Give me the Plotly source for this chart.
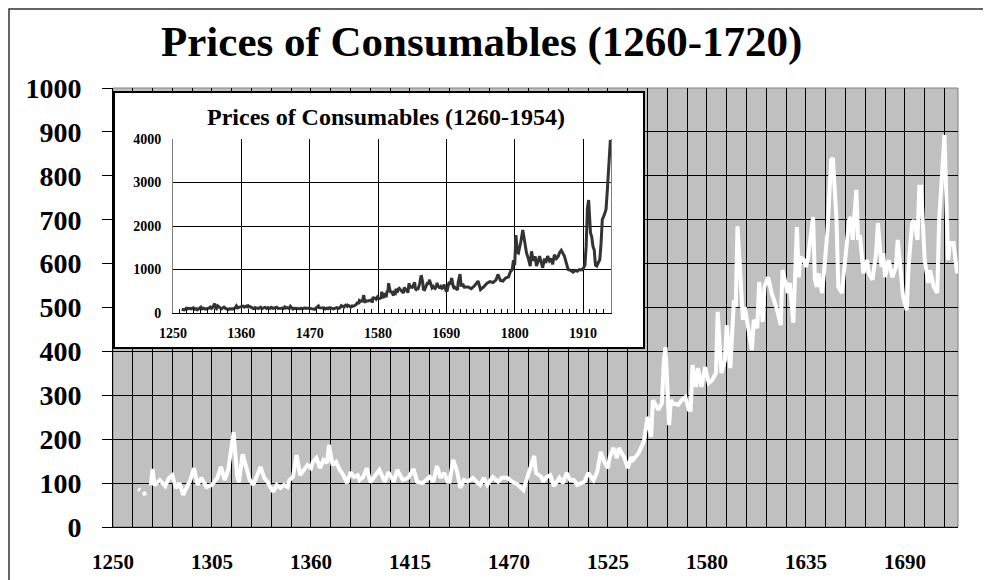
import plotly.graph_objects as go

# ---------------- data ----------------
years = [1264, 1265, 1266, 1267, 1268, 1269, 1271, 1272, 1273, 1276, 1279, 1281, 1283, 1285,
         1287, 1289, 1291, 1293, 1295, 1297, 1299, 1302, 1305, 1308, 1310, 1312, 1314, 1317,
         1319, 1320, 1322, 1324, 1326, 1328, 1330, 1332, 1334, 1336, 1339, 1341, 1343, 1345,
         1347, 1348, 1350, 1352, 1354, 1356, 1358, 1360, 1361, 1363, 1365, 1367, 1369, 1370,
         1372, 1374, 1376, 1378, 1380, 1382, 1384, 1386, 1387, 1389, 1391, 1393, 1395, 1398,
         1401, 1403, 1406, 1408, 1411, 1414, 1417, 1419, 1422, 1425, 1426, 1428, 1430, 1432,
         1434, 1436, 1437, 1439, 1441, 1443, 1445, 1447, 1450, 1452, 1454, 1456, 1458, 1461,
         1464, 1466, 1469, 1472, 1475, 1478, 1480, 1482, 1484, 1485, 1488, 1489, 1491, 1493,
         1495, 1498, 1500, 1502, 1504, 1506, 1508, 1510, 1512, 1514, 1517, 1519, 1521, 1523,
         1525, 1526, 1528, 1530, 1531, 1534, 1536, 1538, 1539, 1542, 1545, 1547, 1549, 1550,
         1553, 1555, 1556, 1557, 1559, 1560, 1561, 1564, 1566, 1568, 1570, 1571, 1572, 1574,
         1575, 1577, 1579, 1581, 1583, 1585, 1586, 1588, 1590, 1591, 1593, 1595, 1596, 1597,
         1599, 1600, 1601, 1603, 1605, 1606, 1608, 1609, 1611, 1612, 1614, 1616, 1619, 1621,
         1622, 1625, 1626, 1628, 1630, 1631, 1632, 1634, 1635, 1636, 1639, 1640, 1641, 1642,
         1644, 1645, 1647, 1649, 1650, 1652, 1653, 1655, 1657, 1659, 1660, 1661, 1663, 1664,
         1665, 1667, 1669, 1670, 1672, 1674, 1675, 1677, 1678, 1679, 1681, 1683, 1685, 1686,
         1688, 1689, 1691, 1692, 1694, 1695, 1697, 1698, 1699, 1701, 1703, 1704, 1706, 1708,
         1709, 1711, 1712, 1714, 1715, 1717, 1719, 1720]
prices = [87, 84, None, 80, 72, None, 95, 132, 95, 107, 93, 111, 118, 89,
          100, 73, 91, 107, 134, 96, 112, 91, 96, 112, 137, 107, 130, 216,
          114, 102, 166, 137, 107, 96, 118, 137, 112, 102, 80, 96, 89, 96,
          91, 107, 114, 164, 118, 130, 141, 134, 148, 157, 134, 153, 146, 187,
          141, 148, 130, 118, 100, 125, 114, 118, 107, 114, 134, 102, 114, 130,
          103, 125, 103, 130, 107, 112, 132, 103, 100, 112, 114, 103, 139, 112,
          123, 103, 103, 153, 130, 89, 107, 103, 112, 103, 96, 112, 96, 114,
          103, 112, 112, 103, 96, 84, 112, 137, 162, 123, 114, 103, 114, 118,
          93, 112, 100, 123, 107, 107, 96, 100, 103, 123, 107, 125, 171, 148,
          134, 159, 180, 157, 180, 159, 134, 159, 153, 168, 195, 251, 205, 289,
          267, 282, 374, 410, 232, 289, 282, 278, 289, 296, 267, 267, 369, 319,
          362, 319, 364, 328, 335, 351, 490, 351, 380, 460, 362, 517, 501, 685,
          540, 472, 501, 456, 403, 472, 453, 558, 467, 547, 569, 533, 494, 460,
          585, 533, 556, 465, 683, 569, 615, 608, 592, 608, 706, 563, 547, 578,
          533, 578, 676, 836, 840, 699, 547, 533, 624, 699, 706, 654, 768, 654,
          665, 578, 608, 578, 563, 624, 692, 592, 624, 569, 608, 569, 592, 654,
          569, 524, 494, 592, 692, 699, 654, 775, 775, 608, 556, 585, 547, 533,
          699, 852, 893, 608, 647, 647, 578, 601]

late_years = [1725, 1730, 1735, 1741, 1745, 1750, 1755, 1760, 1765, 1770, 1773, 1777, 1781,
              1785, 1790, 1793, 1796, 1798, 1800, 1802, 1804, 1806, 1808, 1810, 1813, 1816,
              1819, 1822, 1825, 1827, 1830, 1833, 1835, 1838, 1840, 1843, 1845, 1848, 1850,
              1853, 1856, 1859, 1861, 1864, 1867, 1870, 1872, 1875, 1878, 1880, 1883, 1886,
              1890, 1894, 1898, 1901, 1904, 1908, 1911, 1913, 1915, 1917, 1919, 1920, 1922,
              1924, 1926, 1928, 1930, 1932, 1935, 1937, 1939, 1941, 1944, 1947, 1949, 1951,
              1953, 1954]
late_prices = [600, 560, 620, 735, 540, 600, 680, 720, 700, 760, 887, 750, 735,
               800, 830, 950, 1000, 1215, 1100, 1793, 1400, 1379, 1500, 1650, 1908, 1600,
               1379, 1250, 1080, 1418, 1200, 1300, 1080, 1200, 1310, 1150, 1040, 1250, 1150,
               1310, 1200, 1250, 1118, 1340, 1250, 1300, 1379, 1440, 1350, 1310, 1150, 1000,
               980, 940, 980, 960, 1000, 990, 1040, 1100, 1525, 2400, 2597, 2200, 1840,
               1750, 1530, 1450, 1100, 1080, 1150, 1230, 1600, 2150, 2250, 2380, 2800, 3287,
               3700, 3980]

main_ticks = [1250, 1305, 1360, 1415, 1470, 1525, 1580, 1635, 1690]
main_yticks = [0, 100, 200, 300, 400, 500, 600, 700, 800, 900, 1000]
inset_ticks = [1250, 1360, 1470, 1580, 1690, 1800, 1910]
inset_yticks = [0, 1000, 2000, 3000, 4000]

main_title = "Prices of Consumables (1260-1720)"
inset_title = "Prices of Consumables (1260-1954)"

# ---------------- layout helpers (window pixel -> paper) ----------------
# the page body has an 8px default margin, so the figure starts at (8, 8)
OFF = 8
W, H = 991 - OFF, 580 - OFF
def px(x):
    return (x - OFF) / W
def py(y):
    return 1 - (y - OFF) / H

SERIF = "Liberation Serif"

fig = go.Figure()
fig.add_trace(go.Scatter(x=years, y=prices, mode="lines", connectgaps=False,
                         line=dict(color="white", width=4),
                         xaxis="x", yaxis="y", showlegend=False, hoverinfo="skip"))
fig.add_trace(go.Scatter(x=[None], y=[None], mode="lines", xaxis="x2", yaxis="y2",
                         showlegend=False, hoverinfo="skip"))
fig.add_trace(go.Scatter(x=years + late_years, y=prices + late_prices, mode="lines",
                         connectgaps=True, line=dict(color="#333333", width=3),
                         xaxis="x3", yaxis="y3", showlegend=False, hoverinfo="skip"))

fig.update_layout(
    template="none",
    width=W, height=H,
    margin=dict(l=0, r=0, t=0, b=0, pad=0),
    paper_bgcolor="white", plot_bgcolor="white",
    showlegend=False,
    xaxis=dict(domain=[px(113), px(958)], range=[1250, 1719.5], automargin=False,
               tickmode="array", tickvals=main_ticks, ticks="",
               showgrid=True, gridcolor="black", gridwidth=1,
               minor=dict(tickmode="linear", tick0=1250, dtick=11, showgrid=True,
                          gridcolor="black", gridwidth=1, ticks=""),
               showline=True, linecolor="black", linewidth=1, zeroline=False,
               tickfont=dict(family=SERIF, size=21, color="black", weight="bold"),
               ticklabelstandoff=16, anchor="y"),
    yaxis=dict(domain=[py(527), py(88)], range=[0, 1000], automargin=False,
               tickmode="array", tickvals=main_yticks,
               ticks="outside", ticklen=10, tickcolor="black", tickwidth=1,
               showgrid=True, gridcolor="black", gridwidth=1,
               showline=True, linecolor="black", linewidth=1, zeroline=False,
               tickfont=dict(family=SERIF, size=28, color="black", weight="bold"),
               ticklabelstandoff=15, anchor="x"),
    xaxis2=dict(domain=[px(115), px(643)], range=[0, 1], anchor="y2", automargin=False,
                showline=True, mirror=True, linecolor="black", linewidth=2,
                showgrid=False, zeroline=False, showticklabels=False, ticks=""),
    yaxis2=dict(domain=[py(347), py(93)], range=[0, 1], anchor="x2", automargin=False,
                showline=True, mirror=True, linecolor="black", linewidth=2,
                showgrid=False, zeroline=False, showticklabels=False, ticks=""),
    xaxis3=dict(domain=[px(173), px(611)], range=[1250, 1955], anchor="y3",
                automargin=False,
                tickmode="array", tickvals=inset_ticks,
                ticks="inside", ticklen=4, tickcolor="black",
                minor=dict(tickmode="linear", tick0=1250, dtick=11, ticks="inside",
                           ticklen=4, tickcolor="black", showgrid=False),
                showgrid=True, gridcolor="black", gridwidth=1,
                showline=True, linecolor="black", linewidth=1, zeroline=False,
                tickfont=dict(family=SERIF, size=14, color="black", weight="bold"),
                ticklabelstandoff=7),
    yaxis3=dict(domain=[py(313), py(139)], range=[0, 4000], anchor="x3",
                automargin=False,
                tickmode="array", tickvals=inset_yticks, ticks="",
                showgrid=True, gridcolor="black", gridwidth=1,
                showline=True, mirror=True, linecolor="#808080", linewidth=1,
                zeroline=False,
                tickfont=dict(family=SERIF, size=14, color="black", weight="bold"),
                ticklabelstandoff=8),
    shapes=[
        dict(type="rect", xref="paper", yref="paper", layer="below",
             x0=px(113), x1=px(958), y0=py(527), y1=py(88),
             fillcolor="#C0C0C0", line=dict(color="#808080", width=1)),
        dict(type="rect", xref="paper", yref="paper", layer="above",
             x0=px(9), x1=1.05, y0=-0.05, y1=py(9),
             fillcolor="rgba(0,0,0,0)", line=dict(color="#333333", width=1.5)),
    ],
    annotations=[
        dict(text=main_title, xref="paper", yref="paper", x=px(481), y=py(42),
             xanchor="center", yanchor="middle", showarrow=False,
             font=dict(family=SERIF, size=43, color="black", weight="bold")),
        dict(text=inset_title, xref="paper", yref="paper", x=px(386), y=py(117),
             xanchor="center", yanchor="middle", showarrow=False,
             font=dict(family=SERIF, size=24, color="black", weight="bold")),
    ],
)

fig.write_html("out.html")
